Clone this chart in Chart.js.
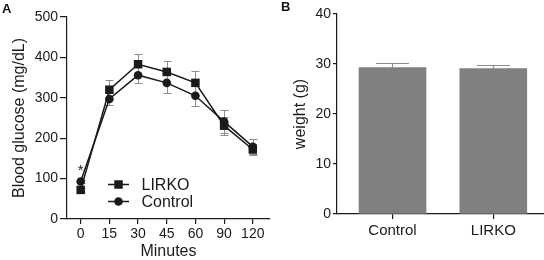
<!DOCTYPE html>
<html><head><meta charset="utf-8">
<script src="https://cdn.jsdelivr.net/npm/chart.js@4/dist/chart.umd.min.js"></script>
<style>
html,body{margin:0;padding:0;background:#fff;overflow:hidden}
#wrap{position:relative;width:544px;height:260px}
canvas{position:absolute;top:0}
#cA{left:0}#cB{left:280px}
.pl{position:absolute;font:bold 13px 'Liberation Sans',Arial,sans-serif;color:#111;line-height:13px}
</style></head><body>
<div id="wrap">
<canvas id="cA" width="280" height="260"></canvas>
<canvas id="cB" width="264" height="260"></canvas>
<div class="pl" style="left:2px;top:2px">A</div>
<div class="pl" style="left:281px;top:0px">B</div>
</div>
<script>
// ---- data ----
const minutes = ['0', '15', '30', '45', '60', '90', '120'];
const lirkoGlucose = [72, 320, 383, 364, 337, 231, 172];
const lirkoSem = [4, 23, 25, 28, 29, 22, 14];
const controlGlucose = [93, 297, 356, 337, 305, 241, 179];
const controlSem = [4, 15, 20, 26, 25, 29, 19];
const glucoseTicks = [0, 100, 200, 300, 400, 500];
const weightGroups = ['Control', 'LIRKO'];
const weightMean = [29.3, 29.1];
const weightSem = [0.9, 0.7];
const weightTicks = [0, 10, 20, 30, 40];

const FONT = "'Liberation Sans', Arial, Helvetica, sans-serif";
Chart.defaults.font.family = FONT;
Chart.defaults.color = '#111';
const INK = '#1a1a1a';
const ERR = '#8e8e8e';

const glucoseIdx = minutes.map((_, i) => i);
const weightIdx = weightGroups.map((_, i) => i);

const errPluginA = {
  id: 'errA',
  beforeDatasetsDraw(chart) {
    const { ctx, scales: { x, y } } = chart;
    ctx.save();
    ctx.strokeStyle = ERR; ctx.lineWidth = 1;
    chart.data.datasets.forEach(ds => {
      ds.data.forEach((p, i) => {
        const px = Math.round(x.getPixelForValue(p.x)) + 0.5;
        const e = ds.sem[i];
        const y1 = Math.round(y.getPixelForValue(p.y + e)) + 0.5;
        const y2 = Math.round(y.getPixelForValue(p.y - e)) + 0.5;
        ctx.beginPath();
        ctx.moveTo(px, y1); ctx.lineTo(px, y2);
        ctx.moveTo(px - 4, y1); ctx.lineTo(px + 4, y1);
        ctx.moveTo(px - 4, y2); ctx.lineTo(px + 4, y2);
        ctx.stroke();
      });
    });
    ctx.restore();
  },
  afterDatasetsDraw(chart) {
    // significance star above time 0
    const { ctx, scales: { x, y } } = chart;
    const ds = chart.data.datasets[1];
    ctx.save();
    ctx.fillStyle = INK;
    ctx.font = '15px ' + FONT;
    ctx.textAlign = 'center';
    ctx.textBaseline = 'alphabetic';
    ctx.fillText('*', x.getPixelForValue(0), y.getPixelForValue(ds.data[0].y) - 6);
    ctx.restore();
  }
};

const legendPluginA = {
  id: 'legA',
  afterDraw(chart) {
    const { ctx } = chart;
    const rows = [184.5, 201.5];
    ctx.save();
    chart.data.datasets.forEach((ds, i) => {
      const yy = rows[i];
      ctx.strokeStyle = ds.borderColor; ctx.lineWidth = 1.5;
      ctx.beginPath(); ctx.moveTo(108, yy); ctx.lineTo(129, yy); ctx.stroke();
      ctx.fillStyle = ds.pointBackgroundColor;
      ctx.beginPath();
      if (ds.pointStyle === 'rect') {
        const h = ds.pointRadius * Math.SQRT1_2;
        ctx.rect(118.5 - h, yy - h, 2 * h, 2 * h);
      } else {
        ctx.arc(118.5, yy, ds.pointRadius, 0, Math.PI * 2);
      }
      ctx.fill();
      ctx.fillStyle = INK;
      ctx.font = '16px ' + FONT;
      ctx.textAlign = 'left'; ctx.textBaseline = 'middle';
      ctx.fillText(ds.label, 141.5, yy + 1);
    });
    ctx.restore();
  }
};

new Chart(document.getElementById('cA'), {
  type: 'line',
  data: {
    datasets: [
      { label: 'LIRKO', data: lirkoGlucose.map((v, i) => ({ x: i, y: v })), sem: lirkoSem,
        borderColor: INK, borderWidth: 1.5, pointStyle: 'rect', pointRadius: 6,
        pointBackgroundColor: INK, pointBorderWidth: 0, tension: 0 },
      { label: 'Control', data: controlGlucose.map((v, i) => ({ x: i, y: v })), sem: controlSem,
        borderColor: INK, borderWidth: 1.5, pointStyle: 'circle', pointRadius: 4.3,
        pointBackgroundColor: INK, pointBorderWidth: 0, tension: 0 }
    ]
  },
  options: {
    responsive: false, animation: false, devicePixelRatio: 1,
    layout: { padding: { top: 17, right: 10, left: 0, bottom: 0 } },
    plugins: { legend: { display: false }, tooltip: { enabled: false } },
    scales: {
      x: {
        type: 'linear', min: -0.477, max: 6.6,
        afterBuildTicks: s => { s.ticks = glucoseIdx.map(v => ({ value: v })); },
        ticks: { callback: v => minutes[v], font: { size: 14 }, color: INK, padding: 2, maxRotation: 0, autoSkip: false },
        grid: { display: true, drawOnChartArea: false, drawTicks: true, tickLength: 5, color: INK, lineWidth: 1.2 },
        border: { display: true, color: INK, width: 1.2 },
        title: { display: true, text: 'Minutes', font: { size: 16, lineHeight: 1 }, padding: { top: 0, bottom: 0 }, color: INK },
        afterFit: s => { s.height = 41; }
      },
      y: {
        type: 'linear', min: 0, max: 500,
        afterBuildTicks: s => { s.ticks = glucoseTicks.map(v => ({ value: v })); },
        ticks: { font: { size: 14 }, color: INK, padding: 2 },
        grid: { display: true, drawOnChartArea: false, drawTicks: true, tickLength: 7, color: INK, lineWidth: 1.2 },
        border: { display: true, color: INK, width: 1.2 },
        title: { display: true, text: 'Blood glucose (mg/dL)', font: { size: 16 }, padding: { top: 10, bottom: 0 }, color: INK },
        afterFit: s => { s.width = 67; }
      }
    }
  },
  plugins: [errPluginA, legendPluginA]
});

const errPluginB = {
  id: 'errB',
  afterDatasetsDraw(chart) {
    const { ctx, scales: { x, y } } = chart;
    ctx.save();
    ctx.strokeStyle = ERR; ctx.lineWidth = 1.2;
    chart.data.datasets.forEach(ds => {
      ds.data.forEach((p, i) => {
        const px = Math.round(x.getPixelForValue(p.x)) + 0.5;
        const y0 = y.getPixelForValue(p.y);
        const y1 = Math.round(y.getPixelForValue(p.y + ds.sem[i])) + 0.5;
        ctx.beginPath();
        ctx.moveTo(px, y0); ctx.lineTo(px, y1);
        ctx.moveTo(px - 16.5, y1); ctx.lineTo(px + 16.5, y1);
        ctx.stroke();
      });
    });
    ctx.restore();
  }
};

new Chart(document.getElementById('cB'), {
  type: 'bar',
  data: {
    datasets: [
      { label: 'weight', data: weightMean.map((v, i) => ({ x: i, y: v })), sem: weightSem,
        backgroundColor: '#808080', borderWidth: 0, barThickness: 67 }
    ]
  },
  options: {
    responsive: false, animation: false, devicePixelRatio: 1,
    layout: { padding: { top: 14, right: 0, left: 0, bottom: 0 } },
    plugins: { legend: { display: false }, tooltip: { enabled: false } },
    scales: {
      x: {
        type: 'linear', min: -0.5506, max: 1.503, offset: false,
        afterBuildTicks: s => { s.ticks = weightIdx.map(v => ({ value: v })); },
        ticks: { callback: v => weightGroups[v], font: { size: 15 }, color: INK, padding: 3, maxRotation: 0, autoSkip: false },
        grid: { display: true, offset: false, drawOnChartArea: false, drawTicks: true, tickLength: 5, color: INK, lineWidth: 1.2 },
        border: { display: true, color: INK, width: 1.2 },
        afterFit: s => { s.height = 46; }
      },
      y: {
        type: 'linear', min: 0, max: 40,
        afterBuildTicks: s => { s.ticks = weightTicks.map(v => ({ value: v })); },
        ticks: { font: { size: 14 }, color: INK, padding: 2 },
        grid: { display: true, drawOnChartArea: false, drawTicks: true, tickLength: 4, color: INK, lineWidth: 1.2 },
        border: { display: true, color: INK, width: 1.2 },
        title: { display: true, text: 'weight (g)', font: { size: 16 }, padding: { top: 11, bottom: 0 }, color: INK },
        afterFit: s => { s.width = 57; }
      }
    }
  },
  plugins: [errPluginB]
});
</script>
</body></html>
